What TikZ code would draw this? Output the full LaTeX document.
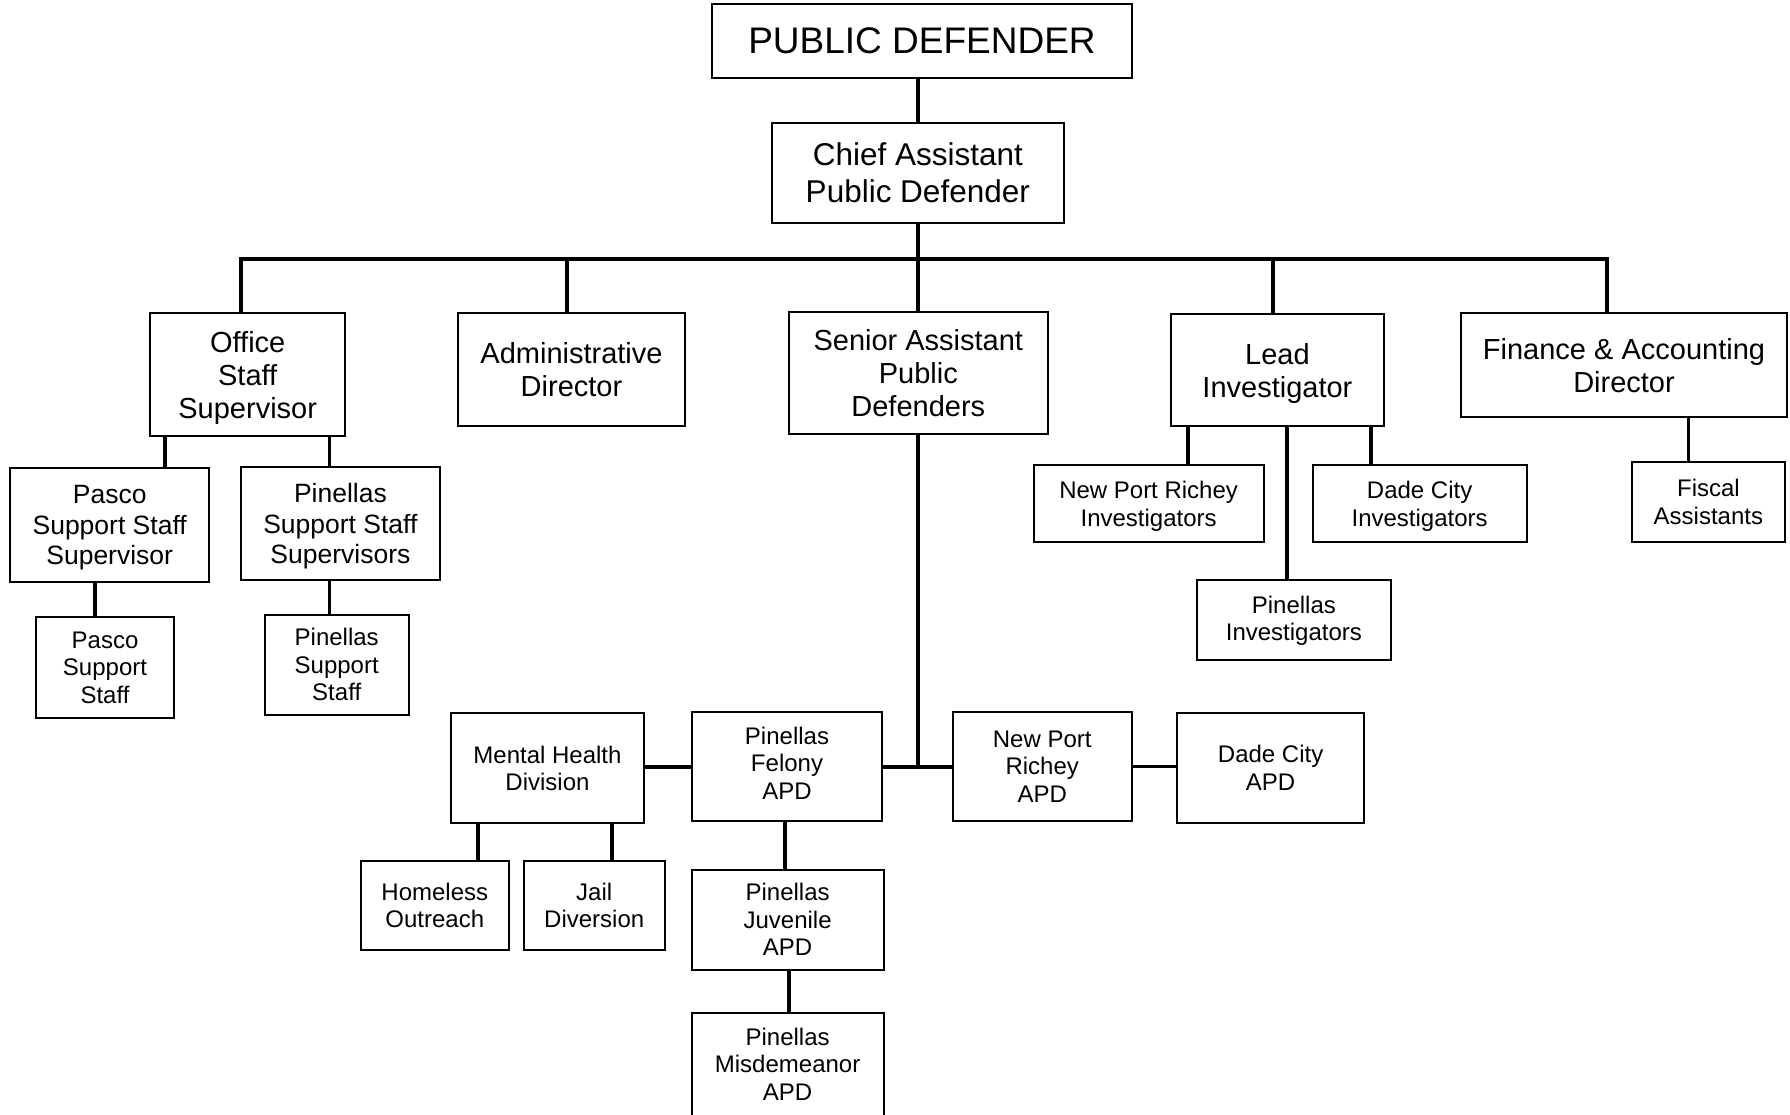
\documentclass[tikz,border=0pt]{standalone}
\usepackage{fontspec}
\setmainfont{Liberation Sans}
\begin{document}
\begin{tikzpicture}[x=1pt,y=-1pt,
  box/.style={draw=black, line width=2pt, rectangle, inner sep=0pt, align=center, fill=white, text depth=0pt},
  raise/.style={text depth=#1},
  lower/.style={execute at begin node={\rule{0pt}{#1}}},
  link/.style={line width=3.8pt, line join=miter},
  fHuge/.style={font=\fontsize{37}{42}\selectfont},
  fBig/.style={font=\fontsize{31.5}{36.5}\selectfont},
  fMain/.style={font=\fontsize{29}{33}\selectfont},
  fMid/.style={font=\fontsize{26.5}{30.5}\selectfont},
  fSmall/.style={font=\fontsize{24}{27.4}\selectfont}]
\clip (0,0) rectangle (1790,1114);

% top of the chart
\node[box, fHuge, minimum width=420pt, minimum height=74pt] (pd) at (922,41) {PUBLIC DEFENDER};
\node[box, fBig, minimum width=292pt, minimum height=100pt] (chief) at (917.8,172.7) {Chief Assistant\\Public Defender};

% first level
\node[box, fMain, minimum width=194.6pt, minimum height=122.4pt] (office) at (247.7,374.5) {Office\\Staff\\Supervisor};
\node[box, fMain, minimum width=227pt, minimum height=112.4pt] (admin) at (571.5,369.5) {Administrative\\Director};
\node[box, fMain, minimum width=259.2pt, minimum height=122.6pt] (senior) at (918.3,373) {Senior Assistant\\Public\\Defenders};
\node[box, fMain, minimum width=212.7pt, minimum height=111.4pt] (lead) at (1277.4,370) {Lead\\Investigator};
\node[box, fMain, minimum width=326pt, minimum height=104pt] (finance) at (1624,365.3) {Finance \& Accounting\\Director};

% office staff branch
\node[box, fMid, minimum width=198.7pt, minimum height=113.5pt] (pasSup) at (109.7,525.2) {Pasco\\Support Staff\\Supervisor};
\node[box, fMid, minimum width=198.7pt, minimum height=113.5pt] (pinSup) at (340.4,523.5) {Pinellas\\Support Staff\\Supervisors};
\node[box, fSmall, lower=24.5pt, minimum width=138.9pt, minimum height=100.6pt] (pasStaff) at (105,667.4) {Pasco\\Support\\Staff};
\node[box, fSmall, minimum width=144.1pt, minimum height=100.2pt] (pinStaff) at (336.7,664.6) {Pinellas\\Support\\Staff};

% investigators
\node[box, fSmall, minimum width=230.2pt, minimum height=76.5pt] (npri) at (1148.6,503.7) {New Port Richey\\Investigators};
\node[box, fSmall, minimum width=214.1pt, minimum height=76.5pt] (dci) at (1419.6,503.7) {Dade City\\Investigators};
\node[box, fSmall, raise=3.8pt, minimum width=193.5pt, minimum height=80.4pt] (pini) at (1293.9,619.9) {Pinellas\\Investigators};

% finance branch
\node[box, fSmall, minimum width=153.3pt, minimum height=80.4pt] (fiscal) at (1708.4,501.7) {Fiscal\\Assistants};

% assistant public defender divisions
\node[box, fSmall, minimum width=193pt, minimum height=109.2pt] (mhd) at (547.5,768) {Mental Health\\Division};
\node[box, fSmall, raise=7pt, minimum width=190.6pt, minimum height=109.2pt] (felony) at (787,766.7) {Pinellas\\Felony\\APD};
\node[box, fSmall, minimum width=179.1pt, minimum height=109.6pt] (npra) at (1042.2,766.5) {New Port\\Richey\\APD};
\node[box, fSmall, minimum width=187.2pt, minimum height=109.6pt] (dca) at (1270.6,767.8) {Dade City\\APD};
\node[box, fSmall, minimum width=147.6pt, minimum height=89.4pt] (homeless) at (434.8,905.2) {Homeless\\Outreach};
\node[box, fSmall, minimum width=141.3pt, minimum height=89.4pt] (jail) at (594.2,905.2) {Jail\\Diversion};
\node[box, fSmall, lower=22pt, minimum width=191.8pt, minimum height=100.2pt] (juvenile) at (787.6,919.6) {Pinellas\\Juvenile\\APD};
\node[box, fSmall, minimum width=191.8pt, minimum height=103pt] (misd) at (787.6,1064.2) {Pinellas\\Misdemeanor\\APD};

% connectors
\coordinate (bus) at (0,259);
\draw[link] (pd.south -| chief.north) -- (chief.north);
\draw[link] ([xshift=-6.7pt]office.north) -- ([xshift=-6.7pt]office.north |- bus)
  -- ([xshift=-17pt]finance.north |- bus) -- ([xshift=-17pt]finance.north);
\draw[link] ([xshift=-4.9pt]admin.north) -- ([xshift=-4.9pt]admin.north |- bus);
\draw[link] ([xshift=-4.4pt]lead.north) -- ([xshift=-4.4pt]lead.north |- bus);
\draw[link] (chief.south) -- (chief.south |- senior.north);

\draw[link] ([xshift=-82.7pt]office.south) coordinate (o1) -- (o1 |- pasSup.north);
\draw[link] ([xshift=81.8pt]office.south) coordinate (o2) -- (o2 |- pinSup.north);
\draw[link] ([xshift=-14.4pt]pasSup.south) coordinate (p1) -- (p1 |- pasStaff.north);
\draw[link] ([xshift=-10.9pt]pinSup.south) coordinate (p2) -- (p2 |- pinStaff.north);

\draw[link] ([xshift=-89.4pt]lead.south) coordinate (l1) -- (l1 |- npri.north);
\draw[link] ([xshift=9.6pt]lead.south) coordinate (l2) -- (l2 |- pini.north);
\draw[link] ([xshift=93.6pt]lead.south) coordinate (l3) -- (l3 |- dci.north);
\draw[link] ([xshift=64.5pt]finance.south) coordinate (f1) -- (f1 |- fiscal.north);

\coordinate (hub) at (senior.south |- felony.east);
\draw[link] (senior.south) -- (hub);
\draw[link] (felony.east) -- (npra.west |- felony.east);
\draw[link] (mhd.east |- felony.west) -- (felony.west);
\draw[link] (npra.east) -- (dca.west |- npra.east);
\draw[link] ([xshift=-69.3pt]mhd.south) coordinate (m1) -- (m1 |- homeless.north);
\draw[link] ([xshift=64.5pt]mhd.south) coordinate (m2) -- (m2 |- jail.north);
\draw[link] ([xshift=-2.3pt]felony.south) coordinate (v1) -- (v1 |- juvenile.north);
\draw[link] ([xshift=1.2pt]juvenile.south) coordinate (v2) -- (v2 |- misd.north);
\end{tikzpicture}
\end{document}
